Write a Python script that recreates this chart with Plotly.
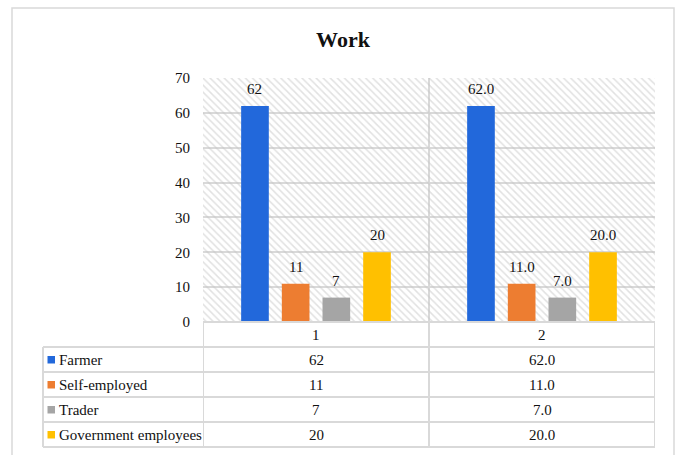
import plotly.graph_objects as go

# ---------------- data ----------------
categories = ["1", "2"]
series_names = ["Farmer", "Self-employed", "Trader", "Government employees"]
farmer = [62, 62]
self_employed = [11, 11]
trader = [7, 7]
government = [20, 20]
series_values = [farmer, self_employed, trader, government]
label_formats = ["{:.0f}", "{:.1f}"]   # category 1 shown as integers, category 2 with one decimal
y_ticks = [0, 10, 20, 30, 40, 50, 60, 70]
title_text = "Work"

# ---------------- style ----------------
colors = ["#2268DB", "#ED7D31", "#A5A5A5", "#FFC000"]
grid_col = "#d9d9d9"
txt_col = "#111111"
FONT = "Liberation Serif"

FW, FH = 679, 455
L, R, T, B = 203, 655, 78, 322
PW, PH = R - L, B - T
bargap = 0.28
bargroupgap = 0.32


def px(x):
    return (x - L) / PW


def py(y):
    return (B - y) / PH


n_cat = len(categories)
xpos = list(range(1, n_cat + 1))
xr = [0.5, n_cat + 0.5]
yr = [y_ticks[0], y_ticks[-1]]

fig = go.Figure()

# hatched plot background (main axes)
fig.add_trace(go.Scatter(
    x=[xr[0], xr[1], xr[1], xr[0], xr[0]],
    y=[yr[0], yr[0], yr[1], yr[1], yr[0]],
    mode="lines", line=dict(width=0), fill="toself",
    fillcolor="rgba(0,0,0,0)",
    fillpattern=dict(shape="\\", fgcolor="#c4c4c4", bgcolor="rgba(0,0,0,0)",
                     size=5, solidity=0.3),
    hoverinfo="skip", showlegend=False, xaxis="x", yaxis="y",
))

# bars on overlay axes so they sit above the hatch
for name, vals, col in zip(series_names, series_values, colors):
    fig.add_trace(go.Bar(
        x=xpos, y=vals, name=name, marker=dict(color=col, line=dict(width=0)),
        xaxis="x2", yaxis="y2", showlegend=False,
    ))

annotations = []
# data labels above bars
n_s = len(series_names)
slot = (1 - bargap) / n_s
for k, vals in enumerate(series_values):
    for i, v in enumerate(vals):
        annotations.append(dict(
            x=xpos[i] + (k - (n_s - 1) / 2) * slot, y=v, xref="x2", yref="y2",
            text=label_formats[i].format(v), showarrow=False,
            yanchor="middle", yshift=17,
            font=dict(family=FONT, size=15, color=txt_col),
        ))

# ---------------- data table ----------------
row_edges = [322, 347, 372, 397, 422, 447]
shapes = []
lc = dict(color=grid_col, width=2)
# outer chart border
shapes.append(dict(type="rect", xref="paper", yref="paper",
                   x0=px(12), x1=px(674), y0=py(8), y1=py(475),
                   line=dict(color=grid_col, width=1.5), layer="below"))
# horizontal lines
for j, yy in enumerate(row_edges):
    x0 = L if j == 0 else 43
    shapes.append(dict(type="line", xref="paper", yref="paper",
                       x0=px(x0), x1=px(R), y0=py(yy), y1=py(yy), line=lc))
# vertical lines
shapes.append(dict(type="line", xref="paper", yref="paper",
                   x0=px(43), x1=px(43), y0=py(row_edges[1]), y1=py(row_edges[-1]), line=lc))
for xe in [0.5 + i for i in range(n_cat + 1)]:
    shapes.append(dict(type="line", xref="x", yref="paper",
                       x0=xe, x1=xe, y0=py(row_edges[0]), y1=py(row_edges[-1]), line=lc))

# category row
cy = (row_edges[0] + row_edges[1]) / 2
for i, c in enumerate(categories):
    annotations.append(dict(x=xpos[i], y=py(cy), xref="x", yref="paper", text=c,
                            showarrow=False, yanchor="middle",
                            font=dict(family=FONT, size=15, color=txt_col)))
# series rows
for k, (name, vals, col) in enumerate(zip(series_names, series_values, colors)):
    top, bot = row_edges[k + 1], row_edges[k + 2]
    mid = (top + bot) / 2
    shapes.append(dict(type="rect", xref="paper", yref="paper",
                       x0=px(47.5), x1=px(55), y0=py(mid - 3.5), y1=py(mid + 4),
                       fillcolor=col, line=dict(width=0)))
    annotations.append(dict(x=px(57), y=py(mid), xref="paper", yref="paper", text=name,
                            showarrow=False, xanchor="left", yanchor="middle",
                            font=dict(family=FONT, size=15, color=txt_col)))
    for i, v in enumerate(vals):
        annotations.append(dict(x=xpos[i], y=py(mid), xref="x", yref="paper",
                                text=label_formats[i].format(v), showarrow=False,
                                yanchor="middle",
                                font=dict(family=FONT, size=15, color=txt_col)))

fig.update_layout(
    width=FW, height=FH,
    margin=dict(l=L, r=FW - R, t=T, b=FH - B),
    paper_bgcolor="white", plot_bgcolor="white",
    barmode="group", bargap=bargap, bargroupgap=bargroupgap,
    title=dict(text="<b>" + title_text + "</b>", x=343 / FW, xref="container",
               xanchor="center", y=1 - 39 / FH, yanchor="middle",
               font=dict(family=FONT, size=22, color=txt_col)),
    xaxis=dict(range=xr, tickvals=[0.5 + i for i in range(n_cat + 1)], showticklabels=False,
               showgrid=True, gridcolor=grid_col, gridwidth=2, zeroline=False,
               showline=False, ticks=""),
    yaxis=dict(range=yr, tickvals=y_ticks, showgrid=True, gridcolor=grid_col, gridwidth=2,
               zeroline=False, showline=False, ticks="", ticklabelstandoff=12,
               tickfont=dict(family=FONT, size=15, color=txt_col)),
    xaxis2=dict(range=xr, overlaying="x", visible=False),
    yaxis2=dict(range=yr, overlaying="y", visible=False),
    shapes=shapes, annotations=annotations,
    showlegend=False,
)

fig.write_html("out.html")
